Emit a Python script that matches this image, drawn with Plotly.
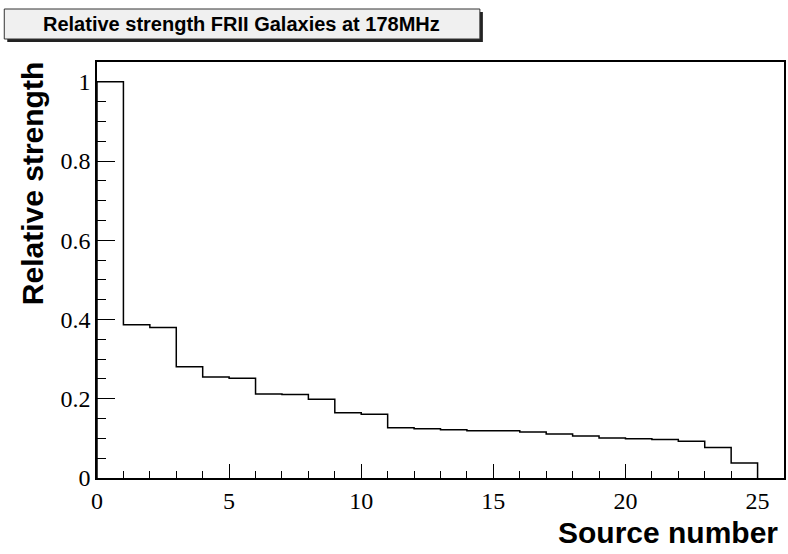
import plotly.graph_objects as go

# Bin edges / source numbers and relative strengths
bin_edges = list(range(0, 26))
relative_strength = [1.000, 0.387, 0.380, 0.281, 0.255, 0.252, 0.212, 0.211, 0.199,
                     0.165, 0.161, 0.127, 0.124, 0.122, 0.119, 0.119, 0.116, 0.111,
                     0.106, 0.101, 0.099, 0.097, 0.093, 0.077, 0.038]
x_tick_vals = [0, 5, 10, 15, 20, 25]
y_tick_vals = [0, 0.2, 0.4, 0.6, 0.8, 1]
y_tick_text = ["0", "0.2", "0.4", "0.6", "0.8", "1"]

title_text = "Relative strength FRII Galaxies at 178MHz"
x_title = "Source number"
y_title = "Relative strength"

# step outline of the histogram
xs = [bin_edges[0]] + bin_edges[:-1] + [bin_edges[-1]]
ys = [0] + relative_strength + [0]

W, H = 788, 554
L, R, T, B = 97, 2, 62, 76
pw, ph = W - L - R, H - T - B


def px(x):
    return (x - L) / pw


def py(y):
    return (H - B - y) / ph


fig = go.Figure()
fig.add_trace(go.Scatter(x=xs, y=ys, mode="lines", line=dict(shape="hv", color="black", width=1.5),
                         showlegend=False, hoverinfo="skip"))

serif = "Liberation Serif, Times New Roman, serif"
sans = "Liberation Sans, Arial, sans-serif"

fig.update_layout(
    width=W, height=H,
    margin=dict(l=L, r=R, t=T, b=B),
    paper_bgcolor="white", plot_bgcolor="white",
    xaxis=dict(range=[0, 26], tickvals=x_tick_vals, ticks="inside", ticklen=14, tickwidth=1.2,
               tickcolor="black", showgrid=False, zeroline=False, showline=True, linecolor="black",
               linewidth=1.5, mirror=True, tickfont=dict(family=serif, size=24, color="black"),
               minor=dict(dtick=1, ticks="inside", ticklen=7, tickcolor="black", tickwidth=1.2, showgrid=False)),
    yaxis=dict(range=[0, 1.05], tickvals=y_tick_vals, ticktext=y_tick_text, ticks="inside", ticklen=18,
               tickwidth=1.2, tickcolor="black", showgrid=False, zeroline=False, showline=True,
               linecolor="black", linewidth=1.5, mirror=True,
               tickfont=dict(family=serif, size=24, color="black"),
               minor=dict(dtick=0.05, ticks="inside", ticklen=9, tickcolor="black", tickwidth=1.2, showgrid=False)),
    shapes=[
        dict(type="rect", xref="paper", yref="paper", x0=px(7), x1=px(484), y0=py(12), y1=py(42),
             fillcolor="#222222", line=dict(width=0), layer="above"),
        dict(type="rect", xref="paper", yref="paper", x0=px(4), x1=px(481), y0=py(9), y1=py(39),
             fillcolor="#f0f0f0", line=dict(color="#333333", width=1), layer="above"),
    ],
    annotations=[
        dict(text=f"<b>{title_text}</b>", xref="paper", yref="paper", x=px(242), y=py(24),
             xanchor="center", yanchor="middle", showarrow=False,
             font=dict(family=sans, size=20, color="black")),
        dict(text=f"<b>{y_title}</b>", xref="paper", yref="paper", x=px(32), y=py(184),
             xanchor="center", yanchor="middle", showarrow=False, textangle=-90,
             font=dict(family=sans, size=30, color="black")),
        dict(text=f"<b>{x_title}</b>", xref="paper", yref="paper", x=px(782), y=py(532),
             xanchor="right", yanchor="middle", showarrow=False,
             font=dict(family=sans, size=30, color="black")),
    ],
)

fig.write_html("out.html", config={"displayModeBar": False},
               post_script="document.body.style.margin='0';")
